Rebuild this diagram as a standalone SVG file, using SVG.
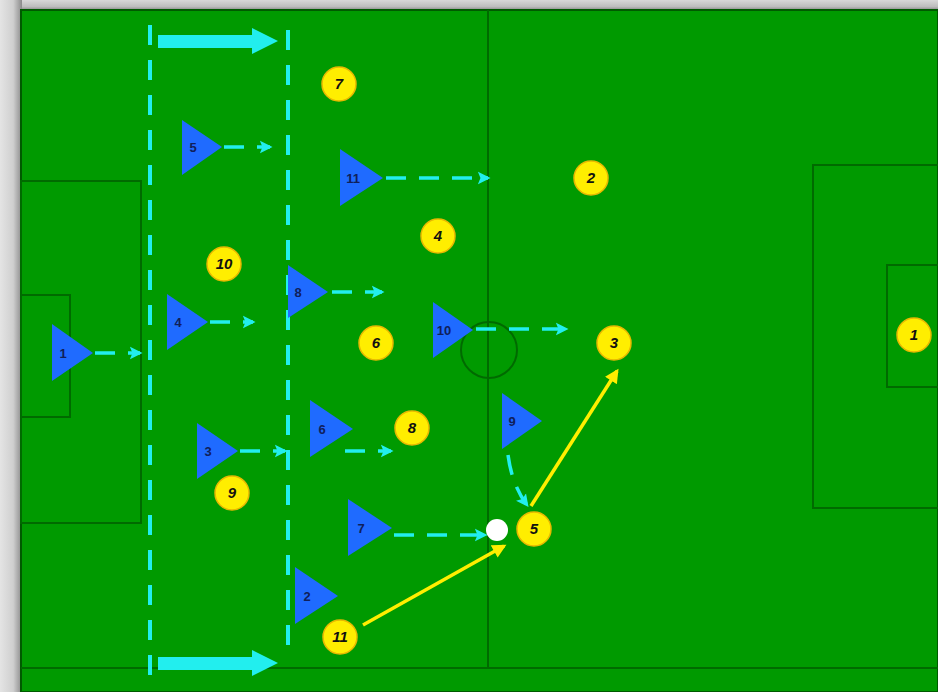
<svg xmlns="http://www.w3.org/2000/svg" width="938" height="692" viewBox="0 0 938 692">
<defs>
<style>
.line{fill:none;stroke:#006a00;stroke-width:2}
.guide{fill:none;stroke:#22eeee;stroke-width:4;stroke-dasharray:20 15}
.run{fill:none;stroke:#22eeee;stroke-width:3.5;stroke-dasharray:20 13}
.pass{fill:none;stroke:#ffee00;stroke-width:3.5}
.tri{fill:#1f6bff}
.tl{font-family:"Liberation Sans",Arial,sans-serif;font-size:13px;font-weight:bold;fill:#10205a;text-anchor:middle}
.opp circle{fill:#ffee00;stroke:#e8b800;stroke-width:1.5}
.ol{font-family:"Liberation Sans",Arial,sans-serif;font-size:15px;font-weight:bold;font-style:italic;fill:#111;text-anchor:middle}
</style>
<marker id="cy" viewBox="0 0 10 10" refX="8" refY="5" markerWidth="3.6" markerHeight="4" orient="auto" markerUnits="strokeWidth">
<path d="M0,0 L10,5 L0,10 L2,5 Z" fill="#22eeee"/>
</marker>
<marker id="yl" viewBox="0 0 10 10" refX="8" refY="5" markerWidth="4.2" markerHeight="4" orient="auto" markerUnits="strokeWidth">
<path d="M0,0 L10,5 L0,10 Z" fill="#ffee00"/>
</marker>
<linearGradient id="lg" x1="0" y1="0" x2="1" y2="0">
<stop offset="0" stop-color="#e4e4e4"/>
<stop offset="0.6" stop-color="#cfcfcf"/>
<stop offset="1" stop-color="#8a8a8a"/>
</linearGradient>
<linearGradient id="tg" x1="0" y1="0" x2="0" y2="1">
<stop offset="0" stop-color="#d8d8d8"/>
<stop offset="0.6" stop-color="#bdbdbd"/>
<stop offset="1" stop-color="#7a7a7a"/>
</linearGradient>
</defs>
<rect x="0" y="0" width="938" height="692" fill="#d6d6d6"/>
<rect x="0" y="0" width="938" height="11" fill="url(#tg)"/>
<rect x="0" y="0" width="22" height="692" fill="url(#lg)"/>
<g id="pitch">
<rect x="21" y="10" width="917" height="682" fill="#009a00"/>
<rect x="21" y="10" width="917" height="682" fill="none" stroke="#005a00" stroke-width="2"/>
<line class="line" x1="21" y1="668" x2="938" y2="668"/>
<rect class="line" x="21" y="181" width="120" height="342"/>
<rect class="line" x="21" y="295" width="49" height="122"/>
<line class="line" x1="488" y1="10" x2="488" y2="668"/>
<circle class="line" cx="489" cy="350" r="28"/>
<rect class="line" x="813" y="165" width="130" height="343"/>
<rect class="line" x="887" y="265" width="60" height="122"/>
</g>
<g id="guides">
<line class="guide" x1="150" y1="25" x2="150" y2="682"/>
<line class="guide" x1="288" y1="30" x2="288" y2="658"/>
<path d="M158,35 H252 V28 L278,41 L252,54 V48 H158 Z" fill="#22eeee"/>
<path d="M158,657 H252 V650 L278,663 L252,676 V670 H158 Z" fill="#22eeee"/>
</g>
<g id="connectors">
<line class="run" x1="95" y1="353" x2="140" y2="353" marker-end="url(#cy)"/>
<line class="run" x1="224" y1="147" x2="270" y2="147" marker-end="url(#cy)"/>
<line class="run" x1="386" y1="178" x2="488" y2="178" marker-end="url(#cy)"/>
<line class="run" x1="210" y1="322" x2="253" y2="322" marker-end="url(#cy)"/>
<line class="run" x1="332" y1="292" x2="382" y2="292" marker-end="url(#cy)"/>
<line class="run" x1="476" y1="329" x2="566" y2="329" marker-end="url(#cy)"/>
<line class="run" x1="240" y1="451" x2="285" y2="451" marker-end="url(#cy)"/>
<line class="run" x1="345" y1="451" x2="391" y2="451" marker-end="url(#cy)"/>
<line class="run" x1="394" y1="535" x2="485" y2="535" marker-end="url(#cy)"/>
<path class="run" d="M508,455 Q512,485 527,505" marker-end="url(#cy)"/>
<line class="pass" x1="531" y1="506" x2="617" y2="371" marker-end="url(#yl)"/>
<line class="pass" x1="363" y1="625" x2="504" y2="546" marker-end="url(#yl)"/>
</g>
<g id="ball"><circle cx="497" cy="530" r="11" fill="#ffffff"/></g>
<g id="team">
<g id="t1"><polygon class="tri" points="52,324 93,353 52,381"/><text class="tl" x="63" y="358">1</text></g>
<g id="t5"><polygon class="tri" points="182,120 222,147 182,175"/><text class="tl" x="193" y="152">5</text></g>
<g id="t11"><polygon class="tri" points="340,149 383,178 340,206"/><text class="tl" x="353" y="183">11</text></g>
<g id="t4"><polygon class="tri" points="167,294 208,322 167,350"/><text class="tl" x="178" y="327">4</text></g>
<g id="t8a"><polygon class="tri" points="288,265 328,292 288,318"/><text class="tl" x="298" y="297">8</text></g>
<g id="t10"><polygon class="tri" points="433,302 473,330 433,358"/><text class="tl" x="444" y="335">10</text></g>
<g id="t6"><polygon class="tri" points="310,400 353,429 310,457"/><text class="tl" x="322" y="434">6</text></g>
<g id="t9"><polygon class="tri" points="502,393 542,421 502,449"/><text class="tl" x="512" y="426">9</text></g>
<g id="t3"><polygon class="tri" points="197,423 238,451 197,479"/><text class="tl" x="208" y="456">3</text></g>
<g id="t7"><polygon class="tri" points="348,499 392,528 348,556"/><text class="tl" x="361" y="533">7</text></g>
<g id="t2"><polygon class="tri" points="295,567 338,596 295,624"/><text class="tl" x="307" y="601">2</text></g>
</g>
<g id="opponents" class="opp">
<g id="o7"><circle cx="339" cy="84" r="17"/><text class="ol" x="339" y="89">7</text></g>
<g id="o2"><circle cx="591" cy="178" r="17"/><text class="ol" x="591" y="183">2</text></g>
<g id="o4"><circle cx="438" cy="236" r="17"/><text class="ol" x="438" y="241">4</text></g>
<g id="o10"><circle cx="224" cy="264" r="17"/><text class="ol" x="224" y="269">10</text></g>
<g id="o6"><circle cx="376" cy="343" r="17"/><text class="ol" x="376" y="348">6</text></g>
<g id="o3"><circle cx="614" cy="343" r="17"/><text class="ol" x="614" y="348">3</text></g>
<g id="o1"><circle cx="914" cy="335" r="17"/><text class="ol" x="914" y="340">1</text></g>
<g id="o8"><circle cx="412" cy="428" r="17"/><text class="ol" x="412" y="433">8</text></g>
<g id="o9"><circle cx="232" cy="493" r="17"/><text class="ol" x="232" y="498">9</text></g>
<g id="o5"><circle cx="534" cy="529" r="17"/><text class="ol" x="534" y="534">5</text></g>
<g id="o11"><circle cx="340" cy="637" r="17"/><text class="ol" x="340" y="642">11</text></g>
</g>
</svg>
